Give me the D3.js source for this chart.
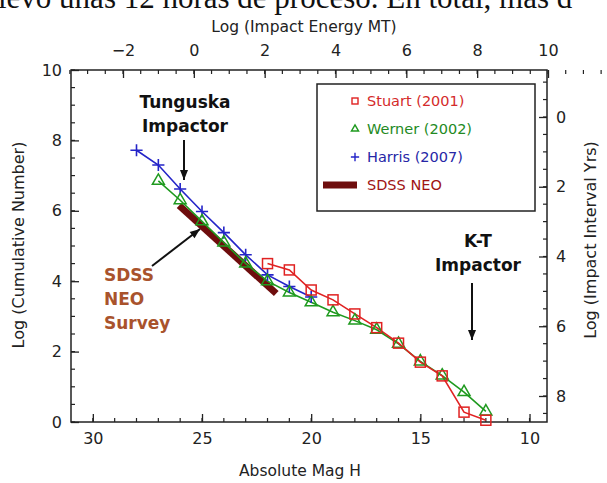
<!DOCTYPE html>
<html>
<head>
<meta charset="utf-8">
<script src="https://cdn.jsdelivr.net/npm/d3@7"></script>
<style>
  body { margin: 0; background: #fff; }
  svg text { font-family: "DejaVu Sans", sans-serif; }
</style>
</head>
<body>
<div id="plot"></div>
<script>
const CANVAS_WIDTH  = 607;
const CANVAS_HEIGHT = 483;
const LEFT   = 71;
const RIGHT  = 547;
const TOP    = 70;
const BOTTOM = 422;

// data (log cumulative number vs absolute magnitude H)
const stuartH  = [22, 21, 20, 19, 18, 17, 16, 15, 14, 13, 12];
const stuartN  = [4.5, 4.32, 3.75, 3.47, 3.07, 2.68, 2.24, 1.7, 1.31, 0.28, 0.05];
const wernerH  = [27, 26, 25, 24, 23, 22, 21, 20, 19, 18, 17, 16, 15, 14, 13, 12];
const wernerN  = [6.85, 6.3, 5.7, 5.1, 4.5, 4.0, 3.68, 3.4, 3.12, 2.88, 2.62, 2.22, 1.72, 1.32, 0.85, 0.3];
const harrisH  = [28, 27, 26, 25, 24, 23, 22, 21, 20];
const harrisN  = [7.72, 7.3, 6.62, 5.98, 5.38, 4.75, 4.18, 3.85, 3.55];
const sdssH    = [26.05, 21.6];
const sdssN    = [6.15, 3.65];

const magTicks      = [30, 25, 20, 15, 10];
const numberTicks   = [0, 2, 4, 6, 8, 10];
const energyTicks   = [-2, 0, 2, 4, 6, 8, 10];
const intervalTicks = [0, 2, 4, 6, 8];

const legendLabels = ["Stuart (2001)", "Werner (2002)", "Harris (2007)", "SDSS NEO"];
const legendColors = ["#d42a2a", "#238a23", "#2626a6", "#a01414"];

var svg = d3.select("#plot")
            .append("svg")
            .attr("width", CANVAS_WIDTH)
            .attr("height", CANVAS_HEIGHT);

var xScale = d3.scaleLinear().domain([31, 9.2]).range([LEFT, RIGHT]);
var yScale = d3.scaleLinear().domain([0, 10]).range([BOTTOM, TOP]);
var eScale = d3.scaleLinear().domain([-2, 10]).range([123, 548]);
var iScale = d3.scaleLinear().domain([0, 8]).range([117, 396]);

// page text cut off above the figure
svg.append("text")
   .attr("x", -2)
   .attr("y", 8)
   .style("font-family", "'Liberation Serif', serif")
   .style("font-size", "31px")
   .attr("fill", "#111")
   .text("levó unas 12 horas de proceso. En total, más d");

function tickAxis(axis) {
    return function(g) {
        g.call(axis);
        g.select(".domain").remove();
        g.selectAll("line").attr("stroke", "#222").attr("stroke-width", 1.3);
        g.selectAll("text")
         .attr("fill", "#222")
         .style("font-size", "16px");
    };
}

// minor ticks, drawn inward
function minorTicks(values, scale, orient, pos, len) {
    svg.append("g")
       .selectAll("line")
       .data(values)
       .enter()
       .append("line")
       .attr("x1", d => orient == "h" ? scale(d) : pos)
       .attr("x2", d => orient == "h" ? scale(d) : pos + len)
       .attr("y1", d => orient == "h" ? pos : scale(d))
       .attr("y2", d => orient == "h" ? pos + len : scale(d))
       .attr("stroke", "#222")
       .attr("stroke-width", 1.2);
}

minorTicks(d3.range(10, 31, 1), xScale, "h", BOTTOM, -4);
minorTicks(d3.range(-3.5, 12.6, 0.5), eScale, "h", TOP, 4);
minorTicks(d3.range(0, 10.1, 0.5), yScale, "v", LEFT, 4);
minorTicks(d3.range(-1, 8.6, 0.5), iScale, "v", RIGHT, -4);

svg.append("g")
   .attr("transform", "translate(0," + BOTTOM + ")")
   .call(tickAxis(d3.axisBottom(xScale).tickValues(magTicks).tickSize(-8).tickPadding(11)));

svg.append("g")
   .attr("transform", "translate(0," + TOP + ")")
   .call(tickAxis(d3.axisTop(eScale).tickValues(energyTicks).tickSize(-8).tickPadding(14)
                  .tickFormat(d => d < 0 ? "\u2212" + (-d) : d)));

svg.append("g")
   .attr("transform", "translate(" + LEFT + ",0)")
   .call(tickAxis(d3.axisLeft(yScale).tickValues(numberTicks).tickSize(-8).tickPadding(9)));

svg.append("g")
   .attr("transform", "translate(" + RIGHT + ",0)")
   .call(tickAxis(d3.axisRight(iScale).tickValues(intervalTicks).tickSize(-8).tickPadding(9)));

// frame
svg.append("rect")
   .attr("x", LEFT)
   .attr("y", TOP)
   .attr("width", RIGHT - LEFT)
   .attr("height", BOTTOM - TOP)
   .attr("fill", "none")
   .attr("stroke", "#222")
   .attr("stroke-width", 1.5);

// axis titles
svg.append("text")
   .attr("x", 304).attr("y", 32)
   .attr("text-anchor", "middle")
   .attr("fill", "#222")
   .style("font-size", "15.5px")
   .text("Log (Impact Energy MT)");

svg.append("text")
   .attr("x", 300).attr("y", 476)
   .attr("text-anchor", "middle")
   .attr("fill", "#222")
   .style("font-size", "15.5px")
   .text("Absolute Mag H");

svg.append("text")
   .attr("transform", "translate(24,245) rotate(-90)")
   .attr("text-anchor", "middle")
   .attr("fill", "#222")
   .style("font-size", "16px")
   .text("Log (Cumulative Number)");

svg.append("text")
   .attr("transform", "translate(596,240) rotate(-90)")
   .attr("text-anchor", "middle")
   .attr("fill", "#222")
   .style("font-size", "16px")
   .text("Log (Impact Interval Yrs)");

// series
function pts(hs, ns) { return hs.map((h, i) => [h, ns[i]]); }

var line = d3.line().x(d => xScale(d[0])).y(d => yScale(d[1]));

svg.append("path")
   .datum(pts(sdssH, sdssN))
   .attr("d", line)
   .attr("stroke", "#6e0d0d")
   .attr("stroke-width", 7)
   .attr("fill", "none");

svg.append("path")
   .datum(pts(harrisH, harrisN))
   .attr("d", line)
   .attr("stroke", "#2424c8")
   .attr("stroke-width", 1.6)
   .attr("fill", "none");

svg.append("path")
   .datum(pts(wernerH, wernerN))
   .attr("d", line)
   .attr("stroke", "#1f9a1f")
   .attr("stroke-width", 1.6)
   .attr("fill", "none");

svg.append("path")
   .datum(pts(stuartH, stuartN))
   .attr("d", line)
   .attr("stroke", "#e02222")
   .attr("stroke-width", 1.6)
   .attr("fill", "none");

svg.selectAll(".harris")
   .data(pts(harrisH, harrisN))
   .enter()
   .append("path")
   .attr("class", "harris")
   .attr("transform", d => "translate(" + xScale(d[0]) + "," + yScale(d[1]) + ") rotate(45)")
   .attr("d", d3.symbol(d3.symbolTimes, 50))
   .attr("fill", "none")
   .attr("stroke", "#2424c8")
   .attr("stroke-width", 1.6);

svg.selectAll(".werner")
   .data(pts(wernerH, wernerN))
   .enter()
   .append("path")
   .attr("class", "werner")
   .attr("transform", d => "translate(" + xScale(d[0]) + "," + yScale(d[1]) + ")")
   .attr("d", d3.symbol(d3.symbolTriangle, 62))
   .attr("fill", "none")
   .attr("stroke", "#1f9a1f")
   .attr("stroke-width", 1.5);

svg.selectAll(".stuart")
   .data(pts(stuartH, stuartN))
   .enter()
   .append("rect")
   .attr("class", "stuart")
   .attr("x", d => xScale(d[0]) - 5)
   .attr("y", d => yScale(d[1]) - 5)
   .attr("width", 10)
   .attr("height", 10)
   .attr("fill", "none")
   .attr("stroke", "#e02222")
   .attr("stroke-width", 1.5);

// legend
svg.append("rect")
   .attr("x", 317).attr("y", 84)
   .attr("width", 218).attr("height", 127)
   .attr("fill", "#fff")
   .attr("stroke", "#222")
   .attr("stroke-width", 1.5);

var legend = svg.append("g")
                .selectAll("g")
                .data(legendLabels)
                .enter()
                .append("g")
                .attr("transform", (d, i) => "translate(0," + (101 + i * 28) + ")");

legend.append("text")
      .attr("x", 367)
      .attr("y", 5)
      .attr("fill", (d, i) => legendColors[i])
      .style("font-size", "14.5px")
      .text(d => d);

legend.filter((d, i) => i == 0).append("rect")
      .attr("x", 352).attr("y", -3).attr("width", 6).attr("height", 6)
      .attr("fill", "none").attr("stroke", "#e02222").attr("stroke-width", 1.4);
legend.filter((d, i) => i == 1).append("path")
      .attr("transform", "translate(355,0)")
      .attr("d", d3.symbol(d3.symbolTriangle, 22))
      .attr("fill", "none").attr("stroke", "#1f9a1f").attr("stroke-width", 1.4);
legend.filter((d, i) => i == 2).append("path")
      .attr("transform", "translate(355,0) rotate(45)")
      .attr("d", d3.symbol(d3.symbolTimes, 24))
      .attr("fill", "none").attr("stroke", "#2424c8").attr("stroke-width", 1.4);
legend.filter((d, i) => i == 3).append("line")
      .attr("x1", 323).attr("x2", 357).attr("y1", 0).attr("y2", 0)
      .attr("stroke", "#6e0d0d").attr("stroke-width", 7);

// annotations
function note(lines, x, y0, color, anchor) {
    lines.forEach(function(t, i) {
        svg.append("text")
           .attr("x", x)
           .attr("y", y0 + i * 24)
           .attr("text-anchor", anchor)
           .attr("fill", color)
           .style("font-size", "17px")
           .style("font-weight", "bold")
           .text(t);
    });
}

function arrow(x1, y1, x2, y2) {
    svg.append("line")
       .attr("x1", x1).attr("y1", y1).attr("x2", x2).attr("y2", y2)
       .attr("stroke", "#111").attr("stroke-width", 2);
    var a = Math.atan2(y2 - y1, x2 - x1);
    var p = [[x2, y2],
             [x2 - 10 * Math.cos(a) + 4 * Math.sin(a), y2 - 10 * Math.sin(a) - 4 * Math.cos(a)],
             [x2 - 10 * Math.cos(a) - 4 * Math.sin(a), y2 - 10 * Math.sin(a) + 4 * Math.cos(a)]];
    svg.append("path")
       .attr("d", "M" + p.join("L") + "Z")
       .attr("fill", "#111");
}

note(["Tunguska", "Impactor"], 185, 108, "#111", "middle");
arrow(184, 140, 184, 180);

note(["K-T", "Impactor"], 478, 247, "#111", "middle");
arrow(472, 283, 472, 340);

note(["SDSS", "NEO", "Survey"], 104, 281, "#a9532c", "start");
arrow(152, 266, 200, 229);
</script>
</body>
</html>
